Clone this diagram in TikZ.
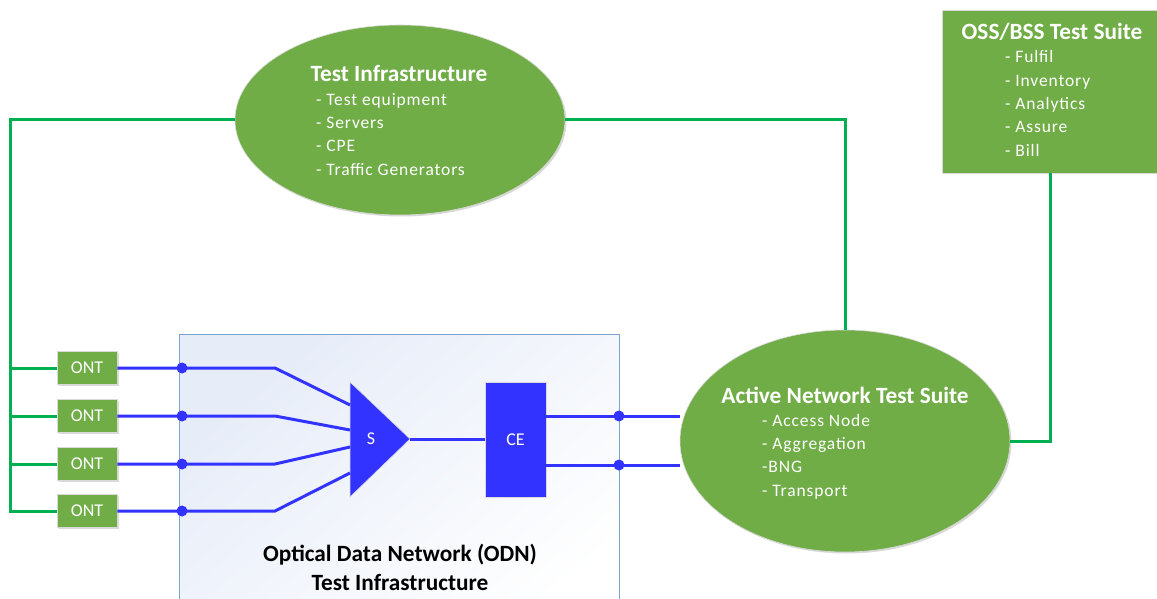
\documentclass[tikz,border=0pt]{standalone}
\usepackage{fontspec}
\setmainfont{Carlito}
\usetikzlibrary{shapes.geometric,shadows}
\definecolor{leaf}{HTML}{70AD47}
\definecolor{wire}{HTML}{00B050}
\definecolor{fibre}{HTML}{3333FF}
\definecolor{frame}{HTML}{7BA3CC}
\definecolor{haze}{HTML}{E6ECF8}
\begin{document}
\begin{tikzpicture}[x=1pt,y=-1pt,
  softshadow/.style={drop shadow={shadow xshift=1.5pt,shadow yshift=-1.5pt,opacity=.25,fill=black!60}},
  suite/.style={ellipse,fill=leaf,draw=black!15,line width=.6pt,inner sep=0pt,softshadow},
  ontbox/.style={rectangle,fill=leaf,draw=black!15,line width=.8pt,minimum width=60pt,minimum height=33pt,inner sep=0pt,text=white,font=\fontsize{18}{20}\selectfont,softshadow},
  heading/.style={text=white,font=\bfseries\fontsize{23.3}{27}\selectfont,inner sep=0pt},
  items/.style={text=white,align=left,inner sep=0pt,anchor=north west,font=\fontsize{17.5}{23.3}\selectfont\addfontfeature{LetterSpace=5}},
  gline/.style={draw=wire,line width=3pt},
  bline/.style={draw=fibre,line width=3pt},
  tap/.style={circle,fill=fibre,inner sep=0pt,minimum size=11pt}
]
\useasboundingbox (0,0) rectangle (1157,599);
\clip (0,0) rectangle (1157,599);

% ODN enclosure, pale at the top left fading to white
\path[draw=frame,line width=1pt,top color=haze,bottom color=white,shading angle=40] (179,334) rectangle (619,640);

% suites
\node[suite,minimum width=330pt,minimum height=190pt] (ti) at (400,120) {};
\node[suite,minimum width=330pt,minimum height=222pt] (an) at (845,441) {};
\node[rectangle,fill=leaf,draw=black!15,line width=.8pt,minimum width=216pt,minimum height=163pt,inner sep=0pt,softshadow] (oss) at (1050,91.5) {};

% ONT boxes
\node[ontbox] (ont1) at (87,368) {ONT};
\node[ontbox] (ont2) at (87,416) {ONT};
\node[ontbox] (ont3) at (87,464) {ONT};
\node[ontbox] (ont4) at (87,511) {ONT};

% splitter and combiner
\coordinate (sA) at (350,382);
\coordinate (sB) at (350,497);
\coordinate (sT) at (410,439);
\fill[fibre,draw=black!15,line width=.6pt] (sA) -- (sT) -- (sB) -- cycle;
\node[text=white,font=\fontsize{18}{20}\selectfont,inner sep=0pt] (s) at (371,439) {S};
\node[rectangle,fill=fibre,draw=black!15,line width=.6pt,minimum width=61pt,minimum height=115pt,inner sep=0pt,text=white,font=\fontsize{18}{20}\selectfont] (ce) at (515.5,439.5) {CE};

% green management wiring
\coordinate (bus) at (10,120);
\draw[gline] (ti.west) -- (bus) |- (ont4.west);
\foreach \o in {ont1,ont2,ont3}{\draw[gline] (\o.west -| bus) -- (\o.west);}
\draw[gline] (ti.east) -| (an.north);
\draw[gline] (oss.south) |- (an.east);

% fibre from ONTs into the splitter
\foreach \o/\y/\e in {ont1/368/405,ont2/416/430,ont3/464/447,ont4/511/473}{
  \coordinate (d\o) at (182,\y);
  \coordinate (k\o) at (275,\y);
  \coordinate (e\o) at (350,\e);
  \draw[bline] (\o.east) -- (d\o) -- (k\o) -- (e\o);
  \node[tap] at (d\o) {};
}
\draw[bline] (sT) -- (ce.west |- sT);
\coordinate (cu) at (619,416);
\coordinate (cl) at (619,465);
\draw[bline] (ce.east |- cu) -- (cu) -- (an.west |- cu);
\draw[bline] (ce.east |- cl) -- (cl) -- (an.west |- cl);
\node[tap] at (cu) {};
\node[tap] at (cl) {};

% texts
\node[heading] (tih) at (399,73) {Test Infrastructure};
\node[items] (til) at (316,93) {- Test equipment\\- Servers\\- CPE\\- Traffic Generators};
\node[heading] (anh) at (845,395) {Active Network Test Suite};
\node[items] (anl) at (762,414) {- Access Node\\- Aggregation\\-BNG\\- Transport};
\node[heading] (ossh) at (1052,32) {OSS/BSS Test Suite};
\node[items] (ossl) at (1005,50.5) {- Fulfil\\- Inventory\\- Analytics\\- Assure\\- Bill};
\node[font=\bfseries\fontsize{23.3}{29}\selectfont,align=center,inner sep=0pt] (odn) at (400,567) {Optical Data Network (ODN)\\Test Infrastructure};
\end{tikzpicture}
\end{document}
